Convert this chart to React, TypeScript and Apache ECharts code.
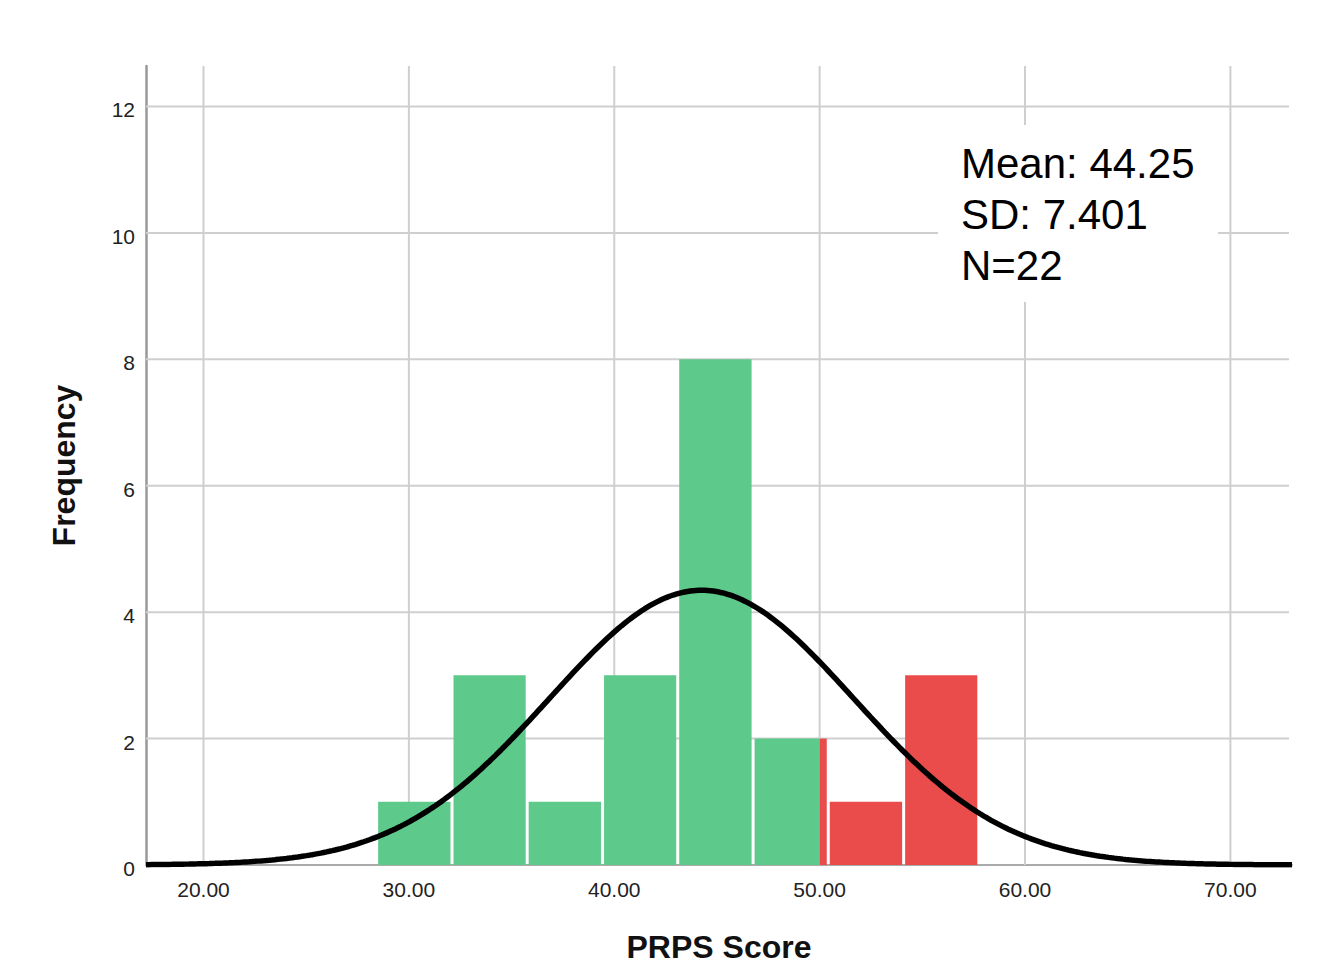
import React, { useEffect, useRef } from "react";
import * as echarts from "echarts";

// ---- Data ----
const BIN_EDGES = [28.43, 32.1, 35.76, 39.43, 43.09, 46.76, 50.42, 54.09, 57.75];
const BIN_COUNTS = [1, 3, 1, 3, 8, 2, 1, 3];
const CUTOFF = 50; // scores at/above this are highlighted red
const MEAN = 44.25;
const SD = 7.401;
const N = 22;
const X_TICKS = [20, 30, 40, 50, 60, 70];
const Y_TICKS = [0, 2, 4, 6, 8, 10, 12];
const STATS_LINES = ["Mean: 44.25", "SD: 7.401", "N=22"];

const X_MIN = 17.2;
const X_MAX = 73.0;
const Y_MAX = 12.64;

const FONT = "'Liberation Sans', Arial, Helvetica, sans-serif";
const GREEN = "#5DC98A";
const RED = "#EA4B4B";
const GRID_COLOR = "#cfcfcf";

function normalCurve(): number[][] {
  const binWidth = (BIN_EDGES[BIN_EDGES.length - 1] - BIN_EDGES[0]) / BIN_COUNTS.length;
  const pts: number[][] = [];
  const steps = 400;
  for (let i = 0; i <= steps; i++) {
    const x = X_MIN + ((X_MAX - X_MIN) * i) / steps;
    const z = (x - MEAN) / SD;
    const y = (N * binWidth * Math.exp(-0.5 * z * z)) / (SD * Math.sqrt(2 * Math.PI));
    pts.push([x, y]);
  }
  return pts;
}

export default function App() {
  const ref = useRef<HTMLDivElement>(null);

  useEffect(() => {
    if (!ref.current) return;
    const chart = echarts.init(ref.current, undefined, { renderer: "svg" });

    const barData = BIN_COUNTS.map((c, i) => [BIN_EDGES[i], BIN_EDGES[i + 1], c]);

    const option: any = {
      animation: false,
      backgroundColor: "#ffffff",
      grid: { left: 146, width: 1146, top: 66, height: 803.5, containLabel: false },
      xAxis: {
        type: "value",
        min: X_MIN,
        max: X_MAX,
        splitLine: { show: false },
        axisTick: { show: false },
        axisLine: { show: true, lineStyle: { color: "#aaaaaa", width: 2 } },
        axisLabel: {
          customValues: X_TICKS,
          formatter: (v: number) => v.toFixed(2),
          fontFamily: FONT,
          fontSize: 21,
          color: "#222222",
          margin: 14,
        },
        name: "PRPS Score",
        nameLocation: "middle",
        nameGap: 66,
        nameTextStyle: { fontFamily: FONT, fontSize: 32, fontWeight: "bold", color: "#111111" },
      },
      yAxis: {
        type: "value",
        min: 0,
        max: Y_MAX,
        splitLine: { show: false },
        axisTick: { show: false },
        axisLine: { show: true, lineStyle: { color: "#999999", width: 2.5 } },
        axisLabel: {
          customValues: Y_TICKS,
          formatter: (v: number) => "{a|" + v + "}",
          margin: 11,
          rich: {
            a: {
              fontFamily: FONT,
              fontSize: 21,
              color: "#222222",
              padding: [7, 0, 0, 0],
            },
          },
        },
        name: "Frequency",
        nameLocation: "middle",
        nameRotate: 90,
        nameGap: 66,
        nameTextStyle: { fontFamily: FONT, fontSize: 32, fontWeight: "bold", color: "#111111" },
      },
      series: [
        {
          type: "custom",
          name: "vgrid",
          silent: true,
          z: 1,
          data: X_TICKS.map((v) => [v, 0]),
          renderItem: (params: any, api: any) => {
            const v = api.value(0);
            const p0 = api.coord([v, 0]);
            const p1 = api.coord([v, Y_MAX]);
            return {
              type: "line",
              shape: { x1: p0[0], y1: p0[1], x2: p1[0], y2: p1[1] },
              style: { stroke: GRID_COLOR, lineWidth: 2 },
            };
          },
        },
        {
          type: "custom",
          name: "hgrid",
          silent: true,
          z: 1,
          data: Y_TICKS.filter((v) => v > 0).map((v) => [X_MIN, v]),
          renderItem: (params: any, api: any) => {
            const v = api.value(1);
            const p0 = api.coord([X_MIN, v]);
            const p1 = api.coord([X_MAX, v]);
            return {
              type: "line",
              shape: { x1: p0[0], y1: p0[1], x2: p1[0] - 3, y2: p1[1] },
              style: { stroke: GRID_COLOR, lineWidth: 2 },
            };
          },
        },
        {
          type: "custom",
          name: "histogram",
          z: 2,
          encode: { x: [0, 1], y: 2 },
          data: barData,
          renderItem: (params: any, api: any) => {
            const x0 = api.value(0);
            const x1 = api.value(1);
            const c = api.value(2);
            const pTop = api.coord([x0, c]);
            const pBot = api.coord([x1, 0]);
            const pc = api.coord([CUTOFF, 0])[0];
            const gap = 1.5;
            const left = pTop[0] + gap;
            const right = pBot[0] - gap;
            const top = pTop[1];
            const bottom = pBot[1];
            const children: any[] = [];
            if (left < pc) {
              const r = Math.min(right, pc);
              children.push({
                type: "rect",
                shape: { x: left, y: top, width: r - left, height: bottom - top },
                style: { fill: GREEN },
              });
            }
            if (right > pc) {
              const l = Math.max(left, pc);
              children.push({
                type: "rect",
                shape: { x: l, y: top, width: right - l, height: bottom - top },
                style: { fill: RED },
              });
            }
            return { type: "group", children };
          },
        },
        {
          type: "line",
          name: "normal",
          z: 3,
          silent: true,
          symbol: "none",
          smooth: false,
          data: normalCurve(),
          lineStyle: { color: "#000000", width: 5.5 },
        },
      ],
      graphic: [
        {
          type: "rect",
          z: 100,
          shape: { x: 938, y: 125, width: 280, height: 177 },
          style: { fill: "#ffffff" },
        },
        {
          type: "text",
          z: 101,
          x: 961,
          y: 138,
          style: {
            text: STATS_LINES.join("\n"),
            fontFamily: FONT,
            fontSize: 42,
            lineHeight: 51,
            fill: "#000000",
            align: "left",
            verticalAlign: "top",
          },
        },
      ],
    };

    chart.setOption(option);
    return () => {
      chart.dispose();
    };
  }, []);

  return (
    <div
      ref={ref}
      style={{ position: "fixed", left: 0, top: 0, width: 1325, height: 968, background: "#fff" }}
    />
  );
}
